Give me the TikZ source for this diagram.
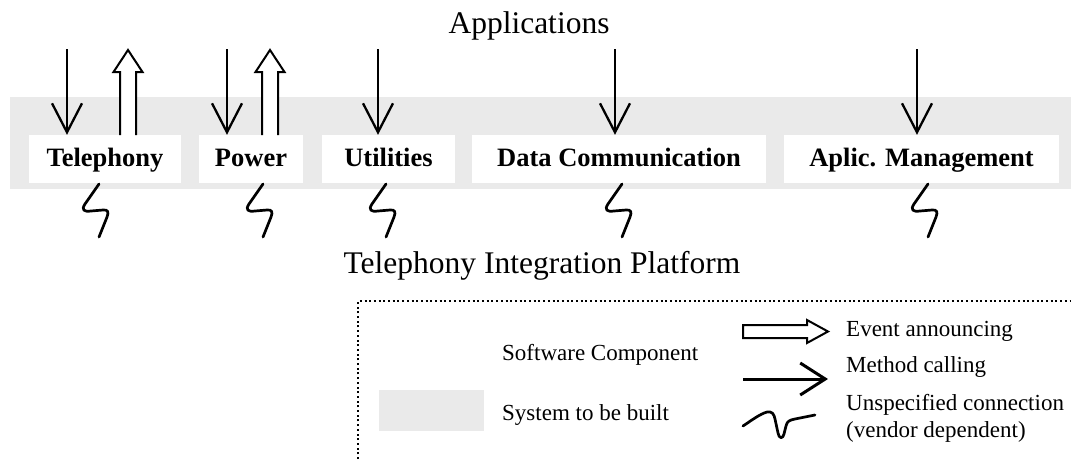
\documentclass[tikz,border=0pt]{standalone}
\usepackage{fontspec}
\setmainfont{Liberation Serif}
\usetikzlibrary{arrows.meta}
\definecolor{bandgray}{RGB}{234,234,234}
\begin{document}
\begin{tikzpicture}[x=1pt,y=-1pt,
  comp/.style={fill=white, inner sep=0pt, text height=31pt, text depth=17pt,
    font=\fontsize{26.5}{30}\selectfont\bfseries},
  method/.style={line width=2.3pt, -{Straight Barb[length=29pt,width=30pt]}},
  squig/.style={line width=2.7pt, line cap=round, line join=round},
  hollow/.style={line width=2pt, line join=miter},
  legtext/.style={anchor=base west, inner sep=0pt, font=\fontsize{23}{27}\selectfont},
  titletext/.style={anchor=base, inner sep=0pt, font=\fontsize{31.5}{36}\selectfont},
  pics/squiggle/.style={code={\draw[squig] (0,0) -- (-14,20)
      .. controls (-18,26) and (-15,28) .. (-8,27) -- (4,26)
      .. controls (9,25.5) and (10,28) .. (8,33) -- (0,53);}}]
\useasboundingbox (0,0) rectangle (1071,459);
% system band
\fill[bandgray] (10,97) rectangle (1071,189);
% components
\node[comp, minimum width=152pt] (tel) at (105,159) {Telephony};
\node[comp, minimum width=104pt] (pow) at (251,159) {Power};
\node[comp, minimum width=133pt] (uti) at (388.5,159) {Utilities};
\node[comp, minimum width=294pt] (dat) at (619,159) {Data Communication};
\node[comp, minimum width=275pt] (apl) at (921.5,159) {Aplic. Management};
% titles
\node[titletext] (app) at (529,33) {Applications};
\node[titletext] (tip) at (542,273) {Telephony Integration Platform};
% method calls
\coordinate (m1) at (67,49);
\coordinate (m2) at (227,49);
\coordinate (m3) at (378,49);
\coordinate (m4) at (615,49);
\coordinate (m5) at (917,49);
\draw[method] (m1) -- (m1 |- tel.north);
\draw[method] (m2) -- (m2 |- pow.north);
\draw[method] (m3) -- (m3 |- uti.north);
\draw[method] (m4) -- (m4 |- dat.north);
\draw[method] (m5) -- (m5 |- apl.north);
% event arrows (hollow)
\foreach \hx in {128,270}{
  \fill[white] ({\hx-8},135) -- ({\hx-8},72) -- ({\hx-14.5},72) -- (\hx,50)
     -- ({\hx+14.5},72) -- ({\hx+8},72) -- ({\hx+8},135) -- cycle;
  \draw[hollow] ({\hx-8},135) -- ({\hx-8},72) -- ({\hx-14.5},72) -- (\hx,50)
     -- ({\hx+14.5},72) -- ({\hx+8},72) -- ({\hx+8},135);
}
% unspecified connections
\pic at (99,184) {squiggle};
\pic at (263,184) {squiggle};
\pic at (386,184) {squiggle};
\pic at (622,184) {squiggle};
\pic at (928,184) {squiggle};
% legend frame
\draw[line width=2pt, dash pattern=on 2pt off 2.7pt] (358,459) -- (358,301) -- (1071,301);
\node[fill=white, inner sep=0pt, minimum width=105pt, minimum height=41pt] (legsw) at (431.5,350.5) {};
\node[fill=bandgray, inner sep=0pt, minimum width=105pt, minimum height=41pt] (legsys) at (431.5,410.5) {};
\node[legtext] (tsw) at (502,360) {Software Component};
\node[legtext] (tsys) at (502,420) {System to be built};
% legend arrows
\fill[white] (743,325) -- (807,325) -- (807,320) -- (828,331.5) -- (807,343) -- (807,338) -- (743,338) -- cycle;
\draw[hollow] (743,325) -- (807,325) -- (807,320) -- (828,331.5) -- (807,343) -- (807,338) -- (743,338) -- cycle;
\coordinate (lm1) at (743,379);
\coordinate (lm2) at (828,379);
\draw[line width=3pt, -{Straight Barb[length=25pt,width=32pt]}] (lm1) -- (lm2);
\draw[squig] (743,426) .. controls (752,420) and (760,414) .. (767,412)
  .. controls (772,411) and (774,414) .. (775,419)
  -- (778,433) .. controls (779,439) and (783,439) .. (784,434)
  -- (786,426) .. controls (787,421) and (790,420) .. (795,419) -- (815,415);
\node[legtext] (tev) at (846,336) {Event announcing};
\node[legtext] (tme) at (846,372) {Method calling};
\node[legtext] (tun) at (846,410) {Unspecified connection};
\node[legtext] (tve) at (846,437) {(vendor dependent)};
\end{tikzpicture}
\end{document}
